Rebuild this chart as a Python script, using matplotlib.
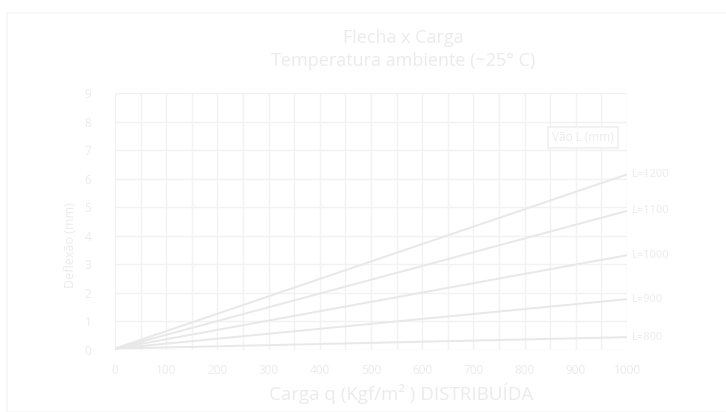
import matplotlib
matplotlib.use("Agg")
import matplotlib.pyplot as plt
from matplotlib.patches import Rectangle

plt.rcParams["font.family"] = ["Open Sans", "DejaVu Sans"]

CARGA = [0, 1000]
VAOS = ["L=1200", "L=1100", "L=1000", "L=900", "L=800"]
FLECHA = {
    "L=1200": [0.05, 6.15],
    "L=1100": [0.05, 4.87],
    "L=1000": [0.05, 3.32],
    "L=900": [0.05, 1.78],
    "L=800": [0.05, 0.45],
}
X_TICKS = list(range(0, 1001, 100))
Y_TICKS = list(range(0, 10))

TXT = "#ebebeb"
LINHA = "#e8e8e8"
GRADE = "#f2f2f2"

fig = plt.figure(figsize=(7.26, 4.12), dpi=100)
fig.patches.append(Rectangle((7 / 726, 0), 1, 1 - 13 / 412, transform=fig.transFigure,
                             fill=False, edgecolor="#f6f6f6", lw=1.2))
ax = fig.add_axes([115 / 726, 62 / 412, 512 / 726, 257 / 412])

for v in VAOS:
    ax.plot(CARGA, FLECHA[v], color=LINHA, lw=1.4)
    ax.text(1010, FLECHA[v][1], v, color=TXT, fontsize=8, va="center", ha="left")

ax.set_xlim(0, 1000)
ax.set_ylim(0, 9)
ax.set_xticks(X_TICKS)
ax.set_xticks(range(0, 1001, 50), minor=True)
ax.set_yticks(Y_TICKS)
ax.grid(True, which="both", color=GRADE, lw=1.0)
ax.set_axisbelow(True)
for s in ax.spines.values():
    s.set_visible(False)
ax.tick_params(which="both", length=0, colors=TXT, labelsize=8.5)
ax.tick_params(axis="y", pad=17)
ax.tick_params(axis="x", pad=10)

ax.text(975, 7.45, "Vão L (mm)", color=TXT, fontsize=8.5, ha="right", va="center",
        bbox=dict(boxstyle="square,pad=0.35", fc="white", ec="#f0f0f0", lw=1.2))

fig.text(401 / 726, 1 - 393 / 412, "Carga q (Kgf/m² ) DISTRIBUÍDA", color=TXT,
         fontsize=13.5, ha="center", va="center")
fig.text(70 / 726, 1 - 245 / 412, "Deflexão (mm)", color=TXT, fontsize=9,
         ha="center", va="center", rotation=90)
fig.text(403 / 726, 1 - 38 / 412, "Flecha x Carga", color=TXT, fontsize=13,
         ha="center", va="center")
fig.text(403 / 726, 1 - 61 / 412, "Temperatura ambiente (~25° C)", color=TXT,
         fontsize=13, ha="center", va="center")

fig.savefig("out.png", dpi=100, facecolor="white")
